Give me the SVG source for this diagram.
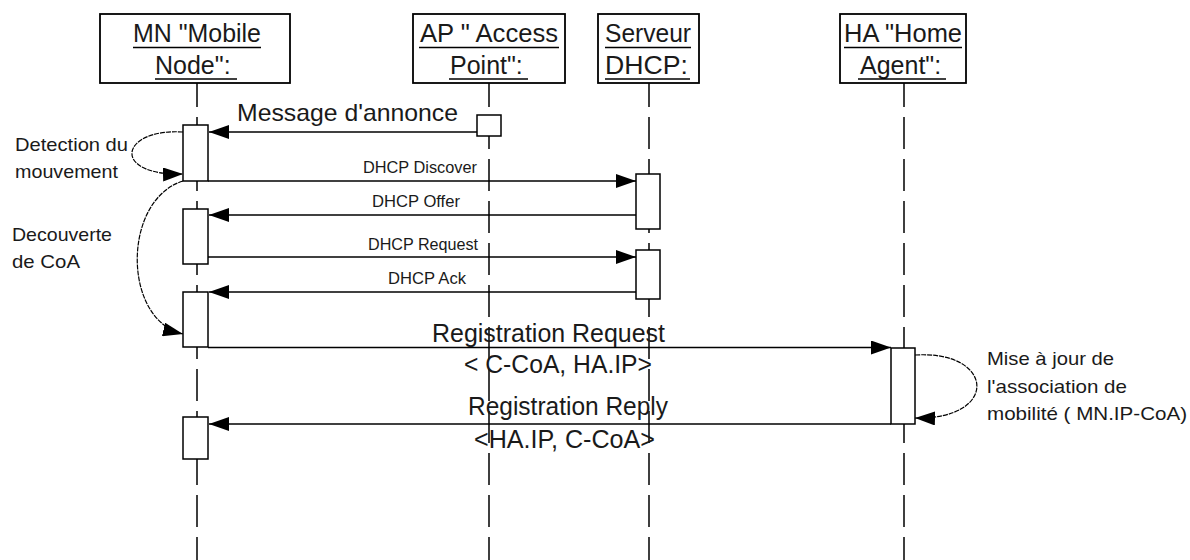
<svg xmlns="http://www.w3.org/2000/svg" width="1190" height="560" viewBox="0 0 1190 560">
<style>
.hdr{fill:#fff;stroke:#000;stroke-width:1.8}
.act{fill:#fff;stroke:#000;stroke-width:1.5}
.life{stroke:#000;stroke-width:1.5;stroke-dasharray:32 10;stroke-dashoffset:8;fill:none}
.ul{stroke:#000;stroke-width:1.4}
.msg{stroke:#000;stroke-width:1.5;fill:none;marker-end:url(#ah)}
.self{stroke:#000;stroke-width:1.2;fill:none;stroke-dasharray:5 1;marker-end:url(#ah)}
text{font-family:"Liberation Sans",Arial,sans-serif;fill:#1a1a1a}
.h{font-size:25px}
.big{font-size:24px}
.reg{font-size:25px}
.sm{font-size:16px}
.note{font-size:19px}
</style>
<defs>
<marker id="ah" markerUnits="userSpaceOnUse" viewBox="0 0 20 14" markerWidth="20" markerHeight="14" refX="20" refY="7" orient="auto">
<path d="M0,0 L20,7 L0,14 z" fill="#000"/>
</marker>
</defs>
<rect width="1190" height="560" fill="#fff"/>

<g id="node-mn">
<line class="life" x1="197" y1="83" x2="197" y2="560"/>
<rect class="hdr" x="100" y="14" width="190" height="69"/>
<text class="h" x="133" y="42" textLength="128" lengthAdjust="spacingAndGlyphs">MN "Mobile</text>
<line class="ul" x1="133" y1="47.5" x2="261" y2="47.5"/>
<text class="h" x="155" y="73.5">Node":</text>
<line class="ul" x1="155" y1="79" x2="237" y2="79"/>
<rect class="act" x="183" y="125" width="25" height="56"/>
<rect class="act" x="183" y="209" width="25" height="55"/>
<rect class="act" x="183" y="292" width="25" height="55"/>
<rect class="act" x="183" y="417" width="25" height="42"/>
</g>

<g id="node-ap">
<line class="life" x1="489" y1="83" x2="489" y2="560"/>
<rect class="hdr" x="413" y="14" width="152" height="69"/>
<text class="h" x="420" y="42" textLength="138" lengthAdjust="spacingAndGlyphs">AP " Access</text>
<line class="ul" x1="419" y1="47.5" x2="559" y2="47.5"/>
<text class="h" x="450" y="73.5">Point":</text>
<line class="ul" x1="449" y1="79" x2="528" y2="79"/>
<rect class="act" x="477" y="115" width="24" height="21"/>
</g>

<g id="node-dhcp">
<line class="life" x1="649" y1="83" x2="649" y2="560"/>
<rect class="hdr" x="598" y="14" width="101" height="69"/>
<text class="h" x="605" y="42" textLength="86" lengthAdjust="spacingAndGlyphs">Serveur</text>
<line class="ul" x1="605" y1="47.5" x2="691" y2="47.5"/>
<text class="h" x="605" y="73.5" textLength="83" lengthAdjust="spacingAndGlyphs">DHCP:</text>
<line class="ul" x1="605" y1="79" x2="690" y2="79"/>
<rect class="act" x="636" y="174" width="24" height="55"/>
<rect class="act" x="636" y="250" width="24" height="49"/>
</g>

<g id="node-ha">
<line class="life" x1="904" y1="83" x2="904" y2="560"/>
<rect class="hdr" x="840" y="14" width="126" height="69"/>
<text class="h" x="844" y="42" textLength="118" lengthAdjust="spacingAndGlyphs">HA "Home</text>
<line class="ul" x1="844" y1="47.5" x2="962" y2="47.5"/>
<text class="h" x="860" y="73.5">Agent":</text>
<line class="ul" x1="858" y1="79" x2="946" y2="79"/>
<rect class="act" x="891" y="348" width="24" height="76"/>
</g>

<g id="connectors">
<line class="msg" x1="477" y1="132" x2="209" y2="132"/>
<line class="msg" x1="208" y1="181" x2="636" y2="181"/>
<line class="msg" x1="636" y1="215" x2="209" y2="215"/>
<line class="msg" x1="208" y1="257" x2="636" y2="257"/>
<line class="msg" x1="636" y1="292" x2="209" y2="292"/>
<line class="msg" x1="208" y1="347.5" x2="891" y2="347.5"/>
<line class="msg" x1="891" y1="424" x2="209" y2="424"/>
<path class="self" d="M183,132 C120,128 110,176 183,174"/>
<path class="self" d="M183,181 C122,200 122,320 183,334"/>
<path class="self" d="M915,355 C995,350 1000,420 915,418"/>
</g>

<g id="labels">
<text class="big" x="237" y="121" textLength="221" lengthAdjust="spacingAndGlyphs">Message d'annonce</text>
<text class="sm" x="363" y="172.5" textLength="114" lengthAdjust="spacingAndGlyphs">DHCP Discover</text>
<text class="sm" x="372" y="207" textLength="88" lengthAdjust="spacingAndGlyphs">DHCP Offer</text>
<text class="sm" x="368" y="250" textLength="110" lengthAdjust="spacingAndGlyphs">DHCP Request</text>
<text class="sm" x="388" y="284" textLength="78" lengthAdjust="spacingAndGlyphs">DHCP Ack</text>
<text class="reg" x="432" y="342" textLength="233" lengthAdjust="spacingAndGlyphs">Registration Request</text>
<text class="reg" x="464" y="373" textLength="188" lengthAdjust="spacingAndGlyphs">&lt; C-CoA, HA.IP&gt;</text>
<text class="reg" x="468" y="415" textLength="200" lengthAdjust="spacingAndGlyphs">Registration Reply</text>
<text class="reg" x="474" y="448" textLength="181" lengthAdjust="spacingAndGlyphs">&lt;HA.IP, C-CoA&gt;</text>
<text class="note" x="15" y="151" textLength="113" lengthAdjust="spacingAndGlyphs">Detection du</text>
<text class="note" x="15" y="178" textLength="103" lengthAdjust="spacingAndGlyphs">mouvement</text>
<text class="note" x="12" y="241" textLength="100" lengthAdjust="spacingAndGlyphs">Decouverte</text>
<text class="note" x="12" y="268" textLength="68" lengthAdjust="spacingAndGlyphs">de CoA</text>
<text class="note" x="987" y="365" textLength="127" lengthAdjust="spacingAndGlyphs">Mise à jour de</text>
<text class="note" x="987" y="392.5" textLength="140" lengthAdjust="spacingAndGlyphs">l'association de</text>
<text class="note" x="987" y="420" textLength="200" lengthAdjust="spacingAndGlyphs">mobilité ( MN.IP-CoA)</text>
</g>
</svg>
